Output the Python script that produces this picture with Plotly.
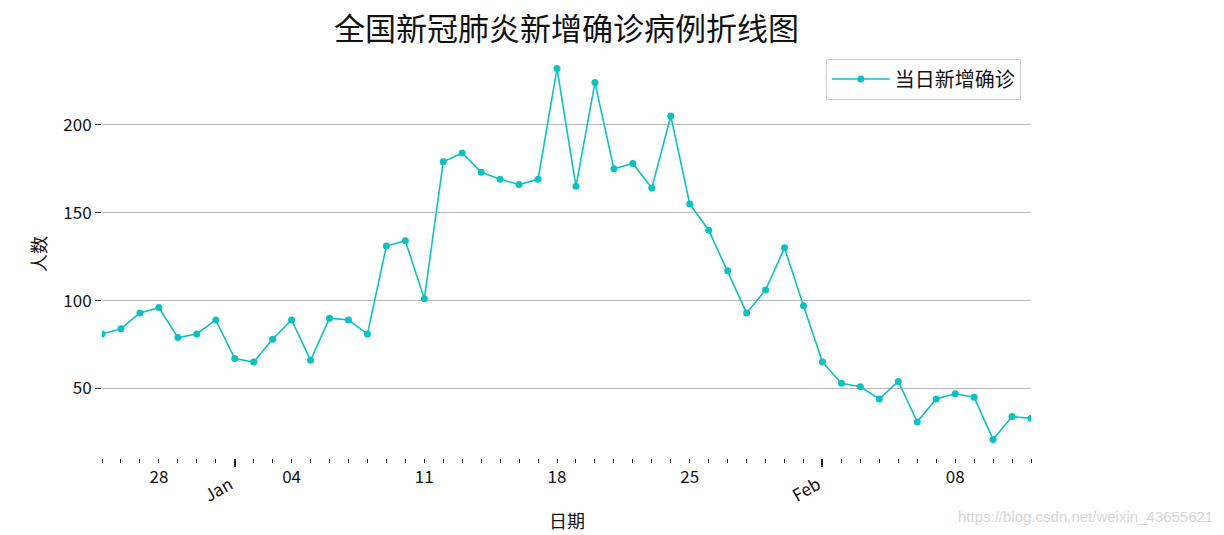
import pandas as pd
import plotly.graph_objects as go

# ---- data ----
dates = pd.date_range("2020-12-25", "2021-02-12", freq="D")
new_cases = [81, 84, 93, 96, 79, 81, 89, 67, 65, 78, 89, 66, 90, 89, 81, 131, 134, 101,
             179, 184, 173, 169, 166, 169, 232, 165, 224, 175, 178, 164, 205, 155, 140,
             117, 93, 106, 130, 97, 65, 53, 51, 44, 54, 31, 44, 47, 45, 21, 34, 33]
series_name = "当日新增确诊"
day_tick_dates = ["2020-12-28", "2021-01-04", "2021-01-11", "2021-01-18", "2021-01-25", "2021-02-08"]
day_tick_labels = ["28", "04", "11", "18", "25", "08"]
month_tick_dates = ["2021-01-01", "2021-02-01"]
month_tick_labels = ["Jan", "Feb"]
y_ticks = [50, 100, 150, 200]

title_text = "全国新冠肺炎新增确诊病例折线图"
x_title = "日期"
y_title = "人数"
watermark = "https://blog.csdn.net/weixin_43655621"

FONT = "Noto Sans CJK SC, Noto Sans, sans-serif"
COLOR = "#0EC0C0"

ymin, ymax = min(new_cases), max(new_cases)
pad = (ymax - ymin) * 0.05
y_range = [ymin - pad, ymax + pad]
x_range = [dates[0], dates[-1]]

fig = go.Figure()
fig.add_trace(go.Scatter(
    x=dates, y=new_cases, mode="lines+markers", name=series_name,
    line=dict(color=COLOR, width=1.6),
    marker=dict(color=COLOR, size=7),
))

fig.update_layout(
    width=1224, height=535,
    margin=dict(l=102, r=193, t=50, b=77, pad=0),
    paper_bgcolor="white", plot_bgcolor="white",
    font=dict(family=FONT, color="#111111"),
    showlegend=True,
    legend=dict(
        x=0.989, y=0.979, xanchor="right", yanchor="top",
        bordercolor="#d0d0d0", borderwidth=1, bgcolor="white",
        itemwidth=58,
        font=dict(size=20, family=FONT, color="#111111"),
    ),
    xaxis=dict(
        type="date", range=x_range,
        tickvals=day_tick_dates, ticktext=day_tick_labels,
        ticks="outside", ticklen=4, tickwidth=1.2, tickcolor="#222222",
        tickfont=dict(size=17, family=FONT, color="#111111"),
        showgrid=False, zeroline=False, showline=False,
        minor=dict(dtick=86400000, tick0="2020-12-25", ticks="outside",
                   ticklen=4, tickwidth=1.2, tickcolor="#222222", showgrid=False),
    ),
    xaxis2=dict(
        type="date", range=x_range, overlaying="x", matches="x", anchor="y", side="bottom",
        tickvals=month_tick_dates, ticktext=["", ""], showticklabels=False,
        ticks="outside", ticklen=8, tickwidth=1.5, tickcolor="#222222",
        showgrid=False, zeroline=False, showline=False,
    ),
    yaxis=dict(
        range=y_range, tickvals=y_ticks,
        ticks="outside", ticklen=6, tickwidth=1.2, tickcolor="#222222",
        tickfont=dict(size=17, family=FONT, color="#111111"),
        showgrid=True, gridcolor="#b8b8b8", gridwidth=1.2,
        zeroline=False, showline=False,
    ),
)

# invisible trace to keep xaxis2 active
fig.add_trace(go.Scatter(x=[dates[0]], y=[new_cases[0]], xaxis="x2", mode="markers",
                         marker=dict(opacity=0), showlegend=False, hoverinfo="skip"))

annotations = [
    dict(text=title_text, xref="paper", yref="paper", x=0.5, y=1, yshift=24,
         xanchor="center", yanchor="middle", showarrow=False,
         font=dict(size=31, family=FONT, color="#111111")),
    dict(text=x_title, xref="paper", yref="paper", x=0.5, y=0, yshift=-62,
         xanchor="center", yanchor="middle", showarrow=False,
         font=dict(size=18, family=FONT, color="#111111")),
    dict(text=y_title, xref="paper", yref="paper", x=0, y=0.5, xshift=-64,
         xanchor="center", yanchor="middle", showarrow=False, textangle=-90,
         font=dict(size=18, family=FONT, color="#111111")),
    dict(text=watermark, xref="paper", yref="paper", x=1, y=0, xshift=184, yshift=-58,
         xanchor="right", yanchor="middle", showarrow=False,
         font=dict(size=15, family="Liberation Sans, Arial, sans-serif", color="#d6d6d6")),
]
for d, lab in zip(month_tick_dates, month_tick_labels):
    annotations.append(dict(text=lab, xref="x", yref="paper", x=d, y=0,
                            xshift=-17, yshift=-30, xanchor="center", yanchor="middle",
                            showarrow=False, textangle=-30,
                            font=dict(size=17, family=FONT, color="#111111")))
fig.update_layout(annotations=annotations)

fig.write_html("out.html")
